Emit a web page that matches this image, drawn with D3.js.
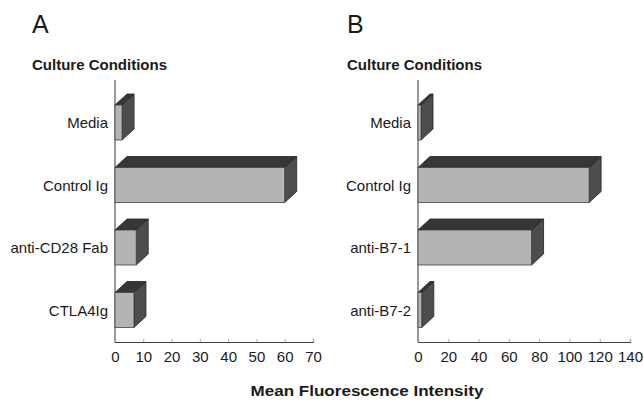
<!DOCTYPE html>
<html>
<head>
<meta charset="utf-8">
<script src="https://cdn.jsdelivr.net/npm/d3@7"></script>
<style>
  html, body { margin: 0; padding: 0; background: #fff; }
  svg { display: block; }
  text { font-family: "Liberation Sans", Arial, Helvetica, sans-serif; fill: #1a1a1a; }
</style>
</head>
<body>
<div id="chart"></div>
<script>
// ---- data ----
const categoriesA = ["Media", "Control Ig", "anti-CD28 Fab", "CTLA4Ig"];
const valuesA = [2.5, 60, 7.5, 6.7];
const ticksA = [0, 10, 20, 30, 40, 50, 60, 70];

const categoriesB = ["Media", "Control Ig", "anti-B7-1", "anti-B7-2"];
const valuesB = [2, 113, 75, 2.5];
const ticksB = [0, 20, 40, 60, 80, 100, 120, 140];

const panelLetters = ["A", "B"];
const yTitle = "Culture Conditions";
const xTitle = "Mean Fluorescence Intensity";

// ---- layout ----
const W = 644, H = 401;
const svg = d3.select("#chart").append("svg").attr("width", W).attr("height", H);

const depthX = 12, depthY = -11;
const axisTop = 80, axisBottom = 342;

const panels = [
  { letter: panelLetters[0], cats: categoriesA, vals: valuesA, ticks: ticksA, x0: 115, x1: 313, left: 32 },
  { letter: panelLetters[1], cats: categoriesB, vals: valuesB, ticks: ticksB, x0: 418, x1: 630, left: 347 }
];

panels.forEach(p => {
  const g = svg.append("g");
  const x = d3.scaleLinear().domain([0, p.ticks[p.ticks.length - 1]]).range([p.x0, p.x1]);
  const y = d3.scaleBand().domain(p.cats).range([92, 342]);
  const step = y.step();
  const barOff = step * 0.208, barH = step * 0.56;

  // panel letter
  g.append("text").attr("x", p.left).attr("y", 33)
    .style("font-size", "25px").style("font-weight", "normal").text(p.letter);
  // y title
  g.append("text").attr("x", p.left).attr("y", 70)
    .style("font-size", "15px").style("font-weight", "bold").text(yTitle);

  // y axis line
  g.append("line").attr("x1", p.x0).attr("x2", p.x0).attr("y1", axisTop).attr("y2", axisBottom)
    .attr("stroke", "#555").attr("stroke-width", 1.2);

  // x axis
  const xAxis = d3.axisBottom(x).tickValues(p.ticks).tickSize(-3).tickPadding(9).tickFormat(d3.format("d"));
  const ax = g.append("g").attr("transform", `translate(0,${axisBottom})`).call(xAxis);
  ax.select(".domain").attr("stroke", "#444").attr("stroke-width", 1.2);
  ax.selectAll(".tick line").attr("stroke", "#aaa");
  ax.selectAll(".tick text").style("font-size", "15px").attr("fill", "#1a1a1a")
    .style("font-family", "'Liberation Sans', Arial, sans-serif");

  // bars
  p.cats.forEach((c, i) => {
    const xa = x(0), xb = x(p.vals[i]);
    const yt = y(c) + barOff, yb = yt + barH;
    const bar = g.append("g");
    // top face
    bar.append("polygon")
      .attr("points", [[xa, yt], [xa + depthX, yt + depthY], [xb + depthX, yt + depthY], [xb, yt]].map(d => d.join(",")).join(" "))
      .attr("fill", "#363636").attr("stroke", "#222").attr("stroke-width", 0.8);
    // side face
    bar.append("polygon")
      .attr("points", [[xb, yt], [xb + depthX, yt + depthY], [xb + depthX, yb + depthY], [xb, yb]].map(d => d.join(",")).join(" "))
      .attr("fill", "#4d4d4d").attr("stroke", "#222").attr("stroke-width", 0.8);
    // front face
    bar.append("rect")
      .attr("x", xa).attr("y", yt).attr("width", Math.max(0, xb - xa)).attr("height", barH)
      .attr("fill", "#b4b4b4").attr("stroke", "#444").attr("stroke-width", 0.8);
    // category label
    g.append("text").attr("x", p.x0 - 7).attr("y", yt + barH / 2)
      .attr("text-anchor", "end").attr("dominant-baseline", "central")
      .style("font-size", "15px").text(c);
  });
});

// x title
svg.append("text")
  .attr("transform", "translate(367,396) scale(1.1,1)")
  .attr("text-anchor", "middle")
  .style("font-size", "15.5px").style("font-weight", "bold").text(xTitle);
</script>
</body>
</html>
